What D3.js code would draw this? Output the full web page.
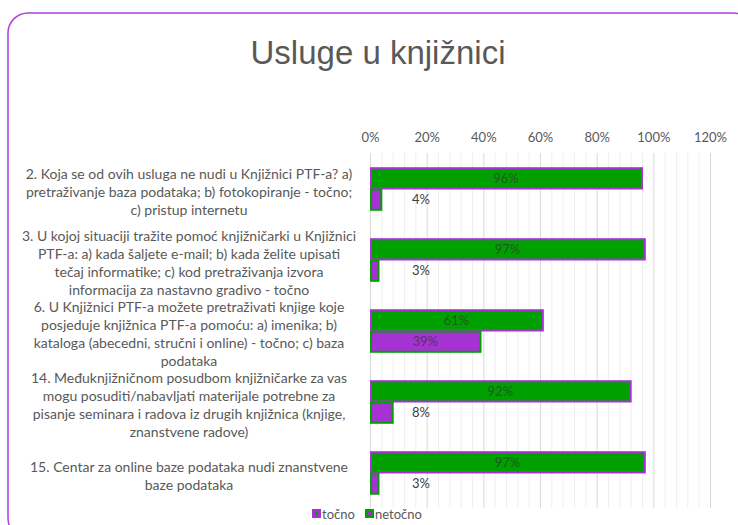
<!DOCTYPE html>
<html>
<head>
<meta charset="utf-8">
<script src="https://cdn.jsdelivr.net/npm/d3@7"></script>
<style>
  body { margin: 0; background: #fff; }
  svg { display: block; font-family: Lato, "Noto Sans", sans-serif; }
</style>
</head>
<body>
<div id="chart"></div>
<script>
// chart data
var categories = [
  ["2. Koja se od ovih usluga ne nudi u Knjižnici PTF-a? a)",
   "pretraživanje baza podataka; b) fotokopiranje - točno;",
   "c) pristup internetu"],
  ["3. U kojoj situaciji tražite pomoć knjižničarki u Knjižnici",
   "PTF-a: a) kada šaljete e-mail; b) kada želite upisati",
   "tečaj informatike; c) kod pretraživanja izvora",
   "informacija za nastavno gradivo - točno"],
  ["6. U Knjižnici PTF-a možete pretraživati knjige koje",
   "posjeduje knjižnica PTF-a  pomoću: a) imenika; b)",
   "kataloga (abecedni, stručni i online) - točno; c) baza",
   "podataka"],
  ["14. Međuknjižničnom posudbom knjižničarke za vas",
   "mogu posuditi/nabavljati materijale potrebne za",
   "pisanje seminara i radova iz drugih knjižnica (knjige,",
   "znanstvene radove)"],
  ["15. Centar za online baze podataka nudi znanstvene",
   "baze podataka"]
]
var seriesNames = ["točno", "netočno"]
var tocno = [96, 97, 61, 92, 97]
var netocno = [4, 3, 39, 8, 3]
var tickValues = [0, 20, 40, 60, 80, 100, 120]

var width = 738, height = 525
var green = "#00a000", purple = "#a632d4", textGray = "#595959"

var svg = d3.select("#chart").append("svg")
  .attr("width", width)
  .attr("height", height)

// outer rounded border
svg.append("rect")
  .attr("x", 8).attr("y", 13)
  .attr("width", 745).attr("height", 525)
  .attr("rx", 20)
  .attr("fill", "none")
  .attr("stroke", "#b03fe2")
  .attr("stroke-width", 1.5)

// title
svg.append("text")
  .attr("x", 378).attr("y", 64)
  .attr("text-anchor", "middle")
  .style("font-family", "'Liberation Sans', Arial, sans-serif")
  .style("font-size", "33px")
  .style("fill", textGray)
  .text("Usluge u knjižnici")

var x = d3.scaleLinear().domain([0, 120]).range([370, 710])
var keys = d3.range(categories.length)
var y = d3.scaleBand().domain(keys).range([153, 508])
  .paddingInner(0.4).paddingOuter(0.2)
var ySub = d3.scaleBand().domain(seriesNames).range([0, y.bandwidth()])

// grid lines (minor every 4%, major every 20%)
svg.append("g").selectAll("line")
  .data(d3.range(0, 121, 4))
  .enter().append("line")
  .attr("x1", function(d) { return x(d) + 0.5 })
  .attr("x2", function(d) { return x(d) + 0.5 })
  .attr("y1", 153).attr("y2", 508)
  .attr("stroke", function(d) { return d % 20 === 0 ? "#d9d9d9" : "#efefef" })
  .attr("stroke-width", 1)

// top axis
var axis = svg.append("g")
  .attr("transform", "translate(0,145)")
  .call(d3.axisTop(x).tickValues(tickValues)
    .tickFormat(function(d) { return d + "%" })
    .tickSize(0).tickPadding(3))
axis.select(".domain").remove()
axis.selectAll("text")
  .style("font-family", "Lato, 'Noto Sans', sans-serif")
  .style("font-size", "13px")
  .style("fill", textGray)

// category labels
var lineH = 18
categories.forEach(function(lines, i) {
  var cy = y(i) + y.bandwidth() / 2 + 3
  var top = cy - (lines.length - 1) * lineH / 2
  svg.append("text")
    .attr("text-anchor", "middle")
    .style("font-size", "14px")
    .style("fill", textGray)
    .selectAll("tspan")
    .data(lines)
    .enter().append("tspan")
    .attr("x", 189)
    .attr("y", function(d, j) { return top + j * lineH + 5 })
    .text(function(d) { return d })
})

// bars
var rows = keys.map(function(i) {
  return [
    { i: i, key: "točno", v: tocno[i], fill: green, stroke: purple },
    { i: i, key: "netočno", v: netocno[i], fill: purple, stroke: green }
  ]
})
var flat = d3.merge(rows)

svg.append("g").selectAll("rect")
  .data(flat)
  .enter().append("rect")
  .attr("x", x(0) + 1)
  .attr("y", function(d) { return y(d.i) + ySub(d.key) + 1 })
  .attr("width", function(d) { return x(d.v) - x(0) - 1 })
  .attr("height", ySub.bandwidth() - 1)
  .attr("fill", function(d) { return d.fill })
  .attr("stroke", function(d) { return d.stroke })
  .attr("stroke-width", 2)

// data labels
svg.append("g").selectAll("text")
  .data(flat)
  .enter().append("text")
  .attr("text-anchor", "middle")
  .attr("x", function(d) { return d.v < 15 ? x(18) : (x(0) + x(d.v)) / 2 })
  .attr("y", function(d) { return y(d.i) + ySub(d.key) + ySub.bandwidth() / 2 + 5 })
  .style("font-size", "13px")
  .style("fill", function(d) { return d.v < 15 ? "#404040" : "#333" })
  .style("fill-opacity", function(d) { return d.v < 15 ? 1 : 0.7 })
  .text(function(d) { return d.v + "%" })

// legend
var legend = svg.append("g").attr("transform", "translate(312,509)")
var legendItems = [
  { name: "točno", fill: green, stroke: purple, x: 0 },
  { name: "netočno", fill: purple, stroke: green, x: 53 }
]
legendItems.forEach(function(d) {
  legend.append("rect")
    .attr("x", d.x + 1.5).attr("y", 1.5)
    .attr("width", 6).attr("height", 6)
    .attr("fill", d.fill)
    .attr("stroke", d.stroke)
    .attr("stroke-width", 3)
  legend.append("text")
    .attr("x", d.x + 10).attr("y", 10)
    .style("font-size", "13px")
    .style("fill", textGray)
    .text(d.name)
})
</script>
</body>
</html>
